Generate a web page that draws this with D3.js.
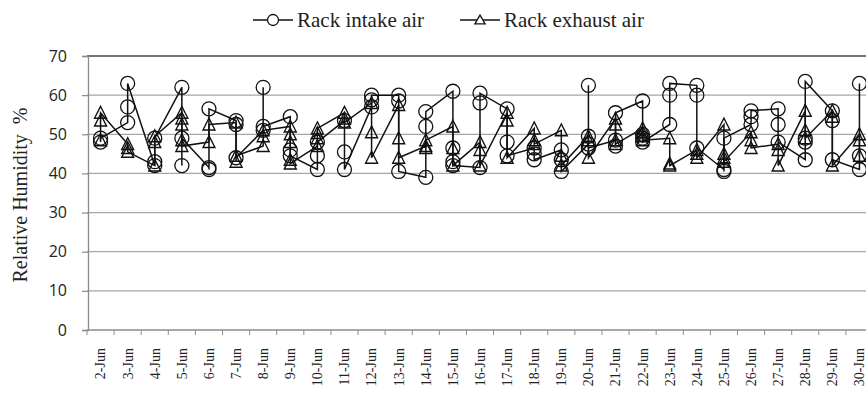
<!doctype html>
<html lang="en">
  <head>
    <meta charset="utf-8">
    <title>Rack relative humidity</title>
    <style>
      body { margin: 0; background: #fff; }
      svg { display: block; }
    </style>
  </head>
  <body>
    <script src="https://d3js.org/d3.v7.min.js"></script>
    <script>
      // days on the x axis
      var days = ['2-Jun', '3-Jun', '4-Jun', '5-Jun', '6-Jun', '7-Jun', '8-Jun', '9-Jun', '10-Jun',
        '11-Jun', '12-Jun', '13-Jun', '14-Jun', '15-Jun', '16-Jun', '17-Jun', '18-Jun', '19-Jun',
        '20-Jun', '21-Jun', '22-Jun', '23-Jun', '24-Jun', '25-Jun', '26-Jun', '27-Jun', '28-Jun',
        '29-Jun', '30-Jun'];

      // readings per day, in the order they are joined by the line
      var intake = [
        [48, 49], [53, 57, 63], [42, 43, 49], [62, 42, 49], [41.5, 41, 56.5],
        [53.5, 52.5, 44], [51, 62, 52], [54.5, 46, 44.5], [41, 44.5, 48],
        [53.5, 45.5, 41], [57, 58.8, 60], [60, 58.5, 40.5], [39, 52, 55.8],
        [61, 46.5, 43, 42], [41.5, 58, 60.5], [56.5, 48, 44.5], [46.5, 45, 43.5],
        [46, 43.5, 40.5], [47.5, 49.5, 62.5, 46.5], [48.5, 47, 55.5], [58.5, 50, 49, 48],
        [52.5, 60, 63], [62.5, 60, 46.5], [41, 40.5, 49], [52.5, 54.5, 56],
        [56.5, 52.5, 48], [43.5, 49, 48, 63.5], [56, 53.5, 43.5], [41, 44.5, 63]
      ];

      var exhaust = [
        [48.5, 53.5, 55.5], [47.5, 46.5, 45.5], [42, 48, 49.5], [55.5, 54, 52.5, 48.5, 47],
        [48, 52.5], [53, 43, 44.5], [47, 49.5, 51], [52, 50, 48, 43.5, 42.5],
        [47, 49, 50.3, 51.5], [55.5, 54, 53], [58, 50.5, 44], [57.5, 49, 44],
        [47, 46.5, 48.5], [52, 46.5, 42], [48, 46, 42], [55.5, 53.5, 44],
        [51.5, 48.5, 47.5], [51, 44.5, 42], [49.5, 48.5, 44], [54, 52.5, 48.5, 47.5],
        [51.5, 50.5, 49.5, 48.5], [49, 42.5, 42], [46, 45, 44], [52.5, 45, 44, 43],
        [50.5, 48.5, 46.5], [47.5, 46, 42], [56, 51, 49], [56, 54.5, 42], [50, 48.5, 44.5]
      ];

      var yTicks = [0, 10, 20, 30, 40, 50, 60, 70];

      var width = 866, height = 402;
      var plot = { left: 87, top: 56, right: 873, bottom: 330 };

      var svg = d3.select('body').append('svg')
          .attr('width', width)
          .attr('height', height);

      var x = d3.scaleBand().domain(days).range([plot.left, plot.right]);
      var y = d3.scaleLinear().domain([0, 70]).range([plot.bottom, plot.top]);

      function flatten(series) {
        var pts = [];
        series.forEach(function(vals, i) {
          vals.forEach(function(v) { pts.push({ day: days[i], v: v }); });
        });
        return pts;
      }

      // gridlines
      svg.append('g')
        .selectAll('line')
        .data(yTicks.filter(function(d) { return d > 0; }))
        .enter().append('line')
          .attr('x1', plot.left)
          .attr('x2', width)
          .attr('y1', function(d) { return y(d); })
          .attr('y2', function(d) { return y(d); })
          .attr('stroke', function(d) { return d === 70 ? '#444' : '#a6a6a6'; })
          .attr('stroke-width', function(d) { return d === 70 ? 1.6 : 1.2; });

      // y axis
      var yAxis = svg.append('g')
          .attr('transform', 'translate(' + (plot.left + 1) + ',0)')
          .call(d3.axisLeft(y).tickValues(yTicks).tickSize(6).tickPadding(15));
      yAxis.select('.domain').attr('stroke', '#8c8c8c').attr('stroke-width', 1.3);
      yAxis.selectAll('.tick line').attr('stroke', '#8c8c8c').attr('stroke-width', 1.2);
      yAxis.selectAll('.tick text')
          .attr('font-family', '"Open Sans", sans-serif')
          .attr('font-size', 16)
          .attr('fill', '#222');

      // x axis
      var xAxis = svg.append('g')
          .attr('transform', 'translate(0,' + plot.bottom + ')')
          .call(d3.axisBottom(x).tickSize(0).tickPadding(0));
      xAxis.select('.domain').remove();
      xAxis.append('line')
          .attr('x1', plot.left).attr('x2', width)
          .attr('stroke', '#8c8c8c').attr('stroke-width', 1.3);
      xAxis.selectAll('.edge')
        .data(days)
        .enter().append('line')
          .attr('x1', function(d) { return x(d); })
          .attr('x2', function(d) { return x(d); })
          .attr('y2', 5)
          .attr('stroke', '#8c8c8c');
      xAxis.selectAll('.tick text')
          .attr('font-family', '"Liberation Serif", "Times New Roman", serif')
          .attr('font-size', 14)
          .attr('fill', '#222')
          .attr('text-anchor', 'end')
          .attr('transform', 'translate(0,18) rotate(-90)')
          .attr('dx', 0)
          .attr('dy', '0.35em')
          .attr('y', 0);

      // axis title
      svg.append('text')
          .attr('transform', 'translate(27,195) rotate(-90)')
          .attr('text-anchor', 'middle')
          .attr('font-family', '"Liberation Serif", "Times New Roman", serif')
          .attr('font-size', 20)
          .attr('fill', '#222')
          .style('white-space', 'pre')
          .text('Relative Humidity  %');

      var line = d3.line()
          .x(function(d) { return x(d.day) + x.bandwidth() / 2; })
          .y(function(d) { return y(d.v); });

      var tri = d3.symbol().type(d3.symbolTriangle).size(62);

      function drawSeries(series, shape) {
        var pts = flatten(series);
        var g = svg.append('g');
        g.append('path')
            .attr('d', line(pts))
            .attr('fill', 'none')
            .attr('stroke', '#111')
            .attr('stroke-width', 1.5);
        var m = g.selectAll('.m')
          .data(pts)
          .enter();
        if (shape === 'circle') {
          m.append('circle')
              .attr('cx', function(d) { return x(d.day) + x.bandwidth() / 2; })
              .attr('cy', function(d) { return y(d.v); })
              .attr('r', 7)
              .attr('fill', 'none')
              .attr('stroke', '#111')
              .attr('stroke-width', 1.3);
        } else {
          m.append('path')
              .attr('d', tri)
              .attr('transform', function(d) {
                return 'translate(' + (x(d.day) + x.bandwidth() / 2) + ',' + (y(d.v) + 1.5) + ') scale(1,1.15)';
              })
              .attr('fill', 'none')
              .attr('stroke', '#111')
              .attr('stroke-width', 1.3);
        }
      }

      drawSeries(intake, 'circle');
      drawSeries(exhaust, 'triangle');

      // legend
      var legend = svg.append('g').attr('font-family', '"Liberation Serif", "Times New Roman", serif');
      var items = [
        { name: 'Rack intake air', x: 253, shape: 'circle' },
        { name: 'Rack exhaust air', x: 460, shape: 'triangle' }
      ];
      items.forEach(function(it) {
        var lg = legend.append('g').attr('transform', 'translate(' + it.x + ',20)');
        lg.append('line').attr('x1', 0).attr('x2', 40)
            .attr('stroke', '#111').attr('stroke-width', 1.4);
        if (it.shape === 'circle') {
          lg.append('circle').attr('cx', 20).attr('r', 5.5)
              .attr('fill', '#fff').attr('stroke', '#111').attr('stroke-width', 1.3);
        } else {
          lg.append('path').attr('d', d3.symbol().type(d3.symbolTriangle).size(45))
              .attr('transform', 'translate(20,1)')
              .attr('fill', '#fff').attr('stroke', '#111').attr('stroke-width', 1.3);
        }
        lg.append('text')
            .attr('x', 44)
            .attr('y', 7)
            .attr('font-size', 21)
            .attr('fill', '#222')
            .text(it.name);
      });
    </script>
  </body>
</html>
